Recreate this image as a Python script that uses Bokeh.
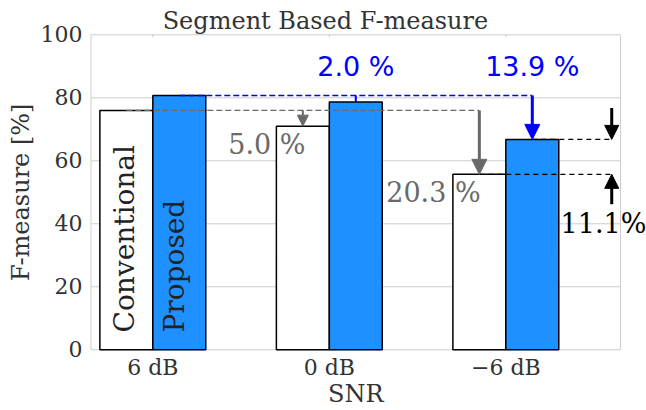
from bokeh.plotting import figure
from bokeh.models import Range1d, Arrow, NormalHead, Label
from bokeh.embed import file_html
from bokeh.resources import INLINE
from bokeh.core.properties import value
import numpy as np

# ---- data ----
categories = ["6 dB", "0 dB", "\u22126 dB"]
conventional = [76.0, 71.0, 55.7]
proposed = [80.7, 78.7, 66.8]
y_ticks = [0, 20, 40, 60, 80, 100]
y_tick_labels = ["0", "20", "40", "60", "80", "100"]
drop_conv_labels = ["5.0 %", "20.3 %"]
drop_prop_labels = ["2.0 %", "13.9 %"]
gain_label = "11.1%"

SERIF = "DejaVu Serif"
SANS = "DejaVu Sans"
TXT = "#333333"
GREY = "#696969"
BLUE = "#0000ff"
BARBLUE = "#1e90ff"
GRID = "#cccccc"

xs = np.arange(len(categories))
bw = 0.3
X0, X1 = -0.35, 2.65      # axes box in data units
Y0, Y1 = 0, 100
PX_X = 176.5              # pixels per x unit
PX_Y = 3.15               # pixels per y unit
K = 0.38                  # baseline correction (em) for svg text


def up(size):
    """vertical correction in data units for a horizontal text of given px size"""
    return K * size / PX_Y


def left(size):
    """horizontal correction in data units for a text rotated by 90 degrees"""
    return K * size / PX_X


p = figure(width=646, height=410, output_backend="svg", toolbar_location=None,
           x_range=Range1d(-0.863, 2.797), y_range=Range1d(-19.27, 110.89),
           min_border=0, min_border_left=0, min_border_right=0,
           min_border_top=0, min_border_bottom=0)
p.title = None
p.axis.visible = False
p.grid.visible = False
p.outline_line_color = None
p.background_fill_color = "white"

# grid lines and box
p.segment(x0=[X0] * len(y_ticks), y0=y_ticks, x1=[X1] * len(y_ticks), y1=y_ticks,
          line_color=GRID, line_width=1)
p.segment(x0=[X0, X1], y0=[Y0, Y0], x1=[X0, X1], y1=[Y1, Y1],
          line_color=GRID, line_width=1)
p.segment(x0=xs, y0=[Y1] * len(xs), x1=xs, y1=[Y1 - 0.8] * len(xs),
          line_color=GRID, line_width=1)

# tick labels
p.text(x=[X0 - 0.048] * len(y_ticks), y=np.array(y_ticks) - 2.48 + up(22), text=y_tick_labels,
       text_font=value(SERIF), text_font_size="22px", text_color=TXT,
       text_align="right", text_baseline="alphabetic")
p.text(x=xs, y=[-8.16 + up(22)] * len(xs), text=categories,
       text_font=value(SERIF), text_font_size="22px", text_color=TXT,
       text_align="center", text_baseline="alphabetic")
# axis labels
p.add_layout(Label(x=(X0 + X1) / 2, y=-17.05 + up(24), text="SNR",
                   text_font=SERIF, text_font_size="24px", text_color=TXT,
                   text_align="center", text_baseline="alphabetic"))
p.add_layout(Label(x=-0.693 - left(24), y=(Y0 + Y1) / 2, text="F-measure [%]", angle=np.pi / 2,
                   text_font=SERIF, text_font_size="24px", text_color=TXT,
                   text_align="center", text_baseline="alphabetic"))
# title
p.add_layout(Label(x=0.978, y=101.4 + up(24), text="Segment Based F-measure",
                   text_font=SERIF, text_font_size="24px", text_color=TXT,
                   text_align="center", text_baseline="alphabetic"))

# bars
p.vbar(x=xs - bw / 2, width=bw, top=conventional, bottom=0,
       fill_color="white", line_color="black", line_width=1.5)
p.vbar(x=xs + bw / 2, width=bw, top=proposed, bottom=0,
       fill_color=BARBLUE, line_color="black", line_width=1.5)

# rotated series labels
p.add_layout(Label(x=xs[0] - 0.098 - left(28), y=5.5, text="Conventional", angle=np.pi / 2,
                   text_font=SERIF, text_font_size="28px", text_color="#222222",
                   text_baseline="alphabetic", text_align="left"))
p.add_layout(Label(x=xs[0] + 0.185 - left(28), y=5.5, text="Proposed", angle=np.pi / 2,
                   text_font=SERIF, text_font_size="28px", text_color="#222222",
                   text_baseline="alphabetic", text_align="left"))

# dashed reference lines
p.line(x=[xs[0] - bw / 2, xs[2] - bw / 2], y=[conventional[0]] * 2,
       line_color=GREY, line_dash="6 3", line_width=1.3)
p.line(x=[xs[0] + bw / 2, xs[2] + bw / 2], y=[proposed[0]] * 2,
       line_color=BLUE, line_dash="6 3", line_width=1.5)
xr = 2.6
p.line(x=[xs[2] + bw / 2, xr], y=[proposed[2]] * 2,
       line_color="black", line_dash="5 4", line_width=1.3)
p.line(x=[xs[2] - bw / 2, xr], y=[conventional[2]] * 2,
       line_color="black", line_dash="5 4", line_width=1.3)

# arrows
p.add_layout(Arrow(x_start=xs[1] - bw / 2, y_start=conventional[0],
                   x_end=xs[1] - bw / 2, y_end=conventional[1],
                   line_color=GREY, line_width=2,
                   end=NormalHead(size=11, fill_color=GREY, line_color=GREY)))
p.add_layout(Arrow(x_start=xs[2] - bw / 2, y_start=conventional[0],
                   x_end=xs[2] - bw / 2, y_end=conventional[2],
                   line_color=GREY, line_width=3,
                   end=NormalHead(size=15, fill_color=GREY, line_color=GREY)))
p.segment(x0=[xs[1] + bw / 2], y0=[proposed[0]], x1=[xs[1] + bw / 2], y1=[proposed[1]],
          line_color=BLUE, line_width=2)
p.add_layout(Arrow(x_start=xs[2] + bw / 2, y_start=proposed[0],
                   x_end=xs[2] + bw / 2, y_end=proposed[2],
                   line_color=BLUE, line_width=3,
                   end=NormalHead(size=15, fill_color=BLUE, line_color=BLUE)))
p.add_layout(Arrow(x_start=xr, y_start=proposed[2] + 10, x_end=xr, y_end=proposed[2],
                   line_color="black", line_width=3,
                   end=NormalHead(size=14, fill_color="black", line_color="black")))
p.add_layout(Arrow(x_start=xr, y_start=conventional[2] - 9.5, x_end=xr, y_end=conventional[2],
                   line_color="black", line_width=3,
                   end=NormalHead(size=14, fill_color="black", line_color="black")))

# annotation texts
p.add_layout(Label(x=xs[1] - 0.135, y=62.0 + up(27), text=drop_conv_labels[0],
                   text_font=SERIF, text_font_size="27px", text_color=GREY,
                   text_align="right", text_baseline="alphabetic"))
p.add_layout(Label(x=xs[2] - 0.143, y=46.7 + up(27), text=drop_conv_labels[1],
                   text_font=SERIF, text_font_size="27px", text_color=GREY,
                   text_align="right", text_baseline="alphabetic"))
p.add_layout(Label(x=xs[1] + bw / 2, y=86.8 + up(27), text=drop_prop_labels[0],
                   text_font=SANS, text_font_size="27px", text_color=BLUE,
                   text_align="center", text_baseline="alphabetic"))
p.add_layout(Label(x=xs[2] + bw / 2, y=86.8 + up(27), text=drop_prop_labels[1],
                   text_font=SANS, text_font_size="27px", text_color=BLUE,
                   text_align="center", text_baseline="alphabetic"))
p.add_layout(Label(x=xs[2] + 0.31, y=36.7 + up(27), text=gain_label,
                   text_font=SERIF, text_font_size="27px", text_color="black",
                   text_align="left", text_baseline="alphabetic"))

open("out.html", "w").write(file_html(p, INLINE))
